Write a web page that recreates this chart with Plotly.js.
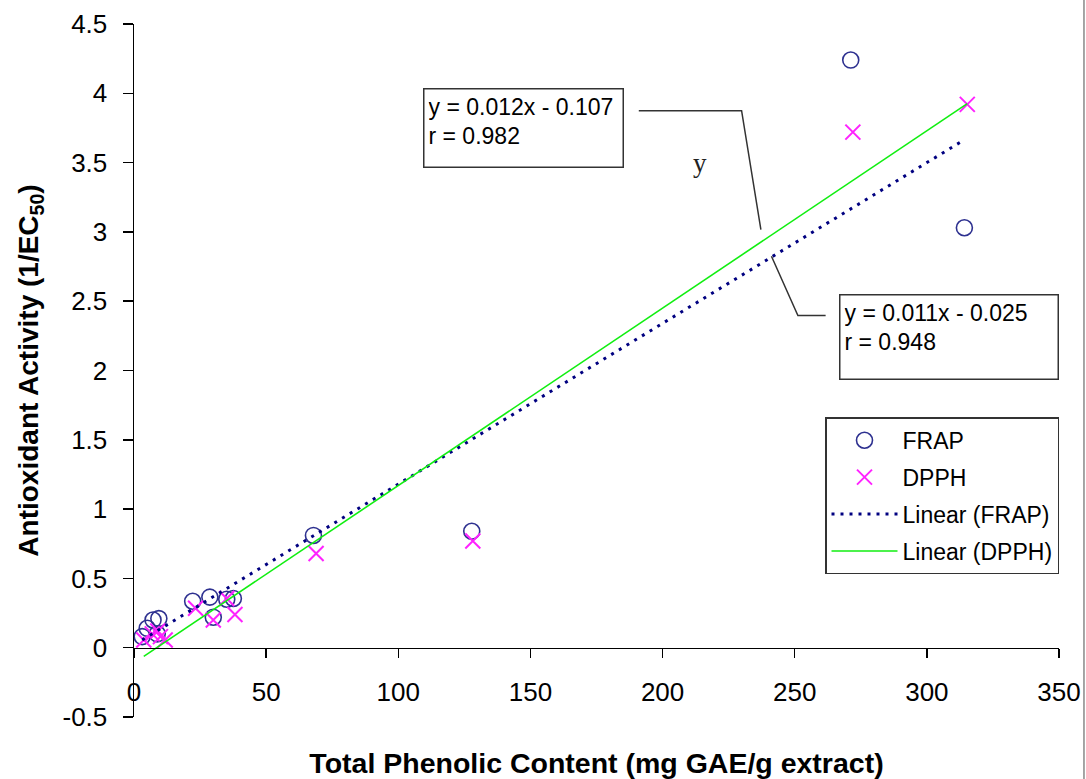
<!DOCTYPE html>
<html><head><meta charset="utf-8">
<script src="https://cdn.plot.ly/plotly-3.0.1.min.js"></script>
<style>html,body{margin:0;padding:0;background:#fff}#chart{width:1086px;height:779px}</style>
</head><body><div id="chart"></div>
<script>
// ---- data ----
const frapX = [3.1, 5.0, 7.2, 9.4, 8.8, 22.2, 28.7, 30.0, 35.1, 37.6, 67.9, 127.8, 271.2, 314.2];
const frapY = [0.08, 0.14, 0.20, 0.21, 0.10, 0.335, 0.365, 0.22, 0.35, 0.355, 0.81, 0.84, 4.24, 3.03];
const dpphX = [3.7, 6.9, 10.0, 11.8, 9.0, 23.3, 30.0, 35.1, 38.2, 68.9, 128.2, 272.0, 315.3];
const dpphY = [0.055, 0.10, 0.08, 0.055, 0.12, 0.285, 0.20, 0.355, 0.24, 0.68, 0.77, 3.72, 3.92];
// trend lines as drawn: [slope, intercept]
const frapFit = [0.0116, 0.02];
const dpphFit = [0.0128, -0.11];
const xTicks = [0, 50, 100, 150, 200, 250, 300, 350];
const yTicks = [-0.5, 0, 0.5, 1, 1.5, 2, 2.5, 3, 3.5, 4, 4.5];
const yTickLabels = ['-0.5', '0', '0.5', '1', '1.5', '2', '2.5', '3', '3.5', '4', '4.5'];
const fitLabels = ['y = 0.012x - 0.107<br>r = 0.982', 'y = 0.011x - 0.025<br>r = 0.948'];

const FONT = 'Arial, "Liberation Sans", sans-serif';
function fitLine(xs, fit) {
  const x0 = Math.min(...xs), x1 = Math.max(...xs);
  return {x: [x0, x1], y: [fit[0] * x0 + fit[1], fit[0] * x1 + fit[1]]};
}
const fl = fitLine(frapX, frapFit);
const dl = fitLine(dpphX, dpphFit);

const traces = [
  {x: frapX, y: frapY, name: 'FRAP', type: 'scatter', mode: 'markers', legendgroup: 'a',
   marker: {symbol: 'circle-open', size: 16, color: '#2e3190', line: {width: 1.6, color: '#2e3190'}}},
  {x: dpphX, y: dpphY, name: 'DPPH', type: 'scatter', mode: 'markers', legendgroup: 'b',
   marker: {symbol: 'x-thin-open', size: 15, color: '#ff22ff', line: {width: 2, color: '#ff22ff'}}},
  {x: fl.x, y: fl.y, name: 'Linear (FRAP)', type: 'scatter', mode: 'lines', legendgroup: 'c',
   line: {color: '#000080', width: 3, dash: '3px,6px'}},
  {x: dl.x, y: dl.y, name: 'Linear (DPPH)', type: 'scatter', mode: 'lines', legendgroup: 'd',
   line: {color: '#11ee11', width: 1.6}}
];

const lineStyle = {color: '#333', width: 1.5};
const layout = {
  width: 1086, height: 779,
  margin: {l: 134, r: 27, t: 24, b: 62},
  paper_bgcolor: '#fff', plot_bgcolor: '#fff',
  showlegend: true,
  font: {family: FONT, color: '#000'},
  xaxis: {
    range: [0, 350], tickvals: xTicks, ticktext: xTicks.map(String),
    anchor: 'free', position: 0.1,
    showline: true, linecolor: '#000', linewidth: 1.5,
    ticks: 'outside', ticklen: 9, tickwidth: 1.5, tickcolor: '#000',
    showgrid: false, zeroline: false, automargin: false,
    tickfont: {family: FONT, size: 26, color: '#000'},
    ticklabelstandoff: 12,
    title: {text: 'Total Phenolic Content (mg GAE/g extract)', standoff: 50,
            font: {family: FONT, size: 28.5, weight: 'bold', color: '#000'}}
  },
  yaxis: {
    range: [-0.5, 4.5], tickvals: yTicks, ticktext: yTickLabels,
    showline: true, linecolor: '#000', linewidth: 1.5,
    ticks: 'outside', ticklen: 10, tickwidth: 1.5, tickcolor: '#000',
    showgrid: false, zeroline: false, automargin: false,
    tickfont: {family: FONT, size: 26, color: '#000'},
    ticklabelstandoff: 10,
    title: {text: 'Antioxidant Activity (1/EC<sub>50</sub>)', standoff: 15,
            font: {family: FONT, size: 28, weight: 'bold', color: '#000'}}
  },
  legend: {
    x: 1.0, xanchor: 'right', y: 0.4325, yanchor: 'top',
    bgcolor: '#fff', bordercolor: '#333', borderwidth: 1.5,
    font: {family: FONT, size: 23, color: '#000'},
    traceorder: 'grouped', tracegroupgap: 4, itemwidth: 66
  },
  annotations: [
    {xref: 'paper', yref: 'paper', x: 0.3128, y: 0.9076, xanchor: 'left', yanchor: 'top',
     text: fitLabels[0], showarrow: false, align: 'left', valign: 'top',
     width: 190, height: 69, borderpad: 4, borderwidth: 1.5, bordercolor: '#333', bgcolor: '#fff',
     font: {family: FONT, size: 23, color: '#000'}},
    {xref: 'paper', yref: 'paper', x: 0.7623, y: 0.61, xanchor: 'left', yanchor: 'top',
     text: fitLabels[1], showarrow: false, align: 'left', valign: 'top',
     width: 209, height: 75, borderpad: 4, borderwidth: 1.5, bordercolor: '#333', bgcolor: '#fff',
     font: {family: FONT, size: 23, color: '#000'}},
    {xref: 'x', yref: 'y', x: 214.1, y: 3.5, text: 'y', showarrow: false,
     font: {family: '"Liberation Serif", "Times New Roman", serif', size: 27, color: '#222'}}
  ],
  shapes: [
    {type: 'path', xref: 'x', yref: 'y', path: 'M191.0,3.875 L229.9,3.875 L237.2,3.017', line: lineStyle},
    {type: 'path', xref: 'x', yref: 'y', path: 'M241.2,2.824 L251.2,2.397 L261.7,2.397', line: lineStyle},
    {type: 'line', xref: 'paper', yref: 'paper', x0: 1.027, x1: 1.027, y0: -0.09, y1: 1.035,
     line: {color: '#888', width: 1.5}}
  ]
};

Plotly.newPlot('chart', traces, layout, {staticPlot: true, displayModeBar: false});
</script></body></html>
